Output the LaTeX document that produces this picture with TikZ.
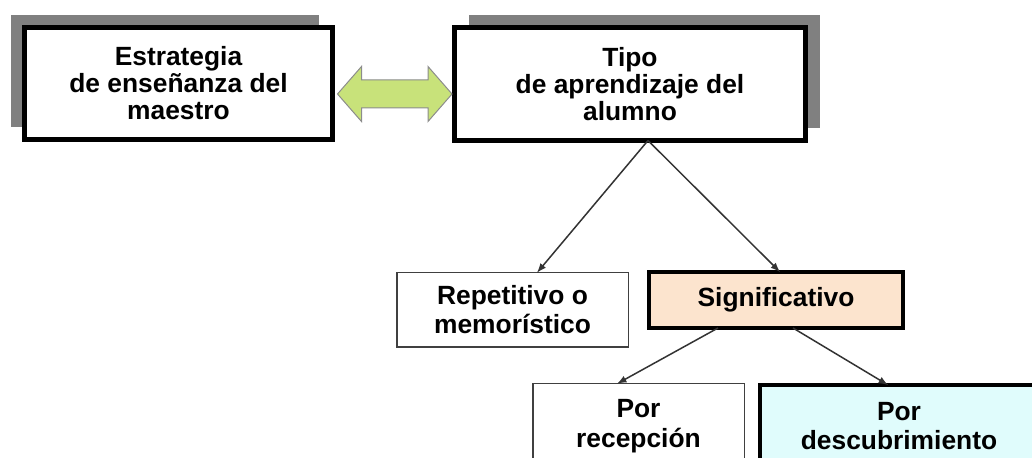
\documentclass[tikz,border=0pt]{standalone}
\usepackage{fontspec}
\setmainfont{Liberation Sans}
\usetikzlibrary{shadows}
\definecolor{peach}{RGB}{252,228,206}
\definecolor{icecyan}{RGB}{224,252,252}
\definecolor{leafgreen}{RGB}{200,226,122}
\def\fsz{15}
\tikzset{box/.style={
        font=\fontsize{\fsz}{#1}\selectfont\bfseries,
        draw=black,
        align=center,
        fill=white,
        inner sep=0pt,
        outer sep=0pt},
        %
        tbox/.style={
            box=15.4,
            line width=0.1cm,
            drop shadow={shadow xshift=#1, shadow yshift=0.24cm,
                         fill=black!50, opacity=1}},
        thinbox/.style={
            box=#1,
            draw=black!75,
            line width=0.03cm},
        fatbox/.style={
            box=17,
            line width=0.08cm,
            fill=#1}
        }

\begin{document}
\begin{tikzpicture}[x=1cm, y=-1cm,
                edgedown/.style={draw=black!80,line width=0.03cm,-latex},
                darrow/.style={draw=black!45,fill=leafgreen,line width=0.02cm}
                ]
\useasboundingbox (0,0) rectangle (20.64,9.16);
\clip (0,0) rectangle (20.64,9.16);

\node[tbox=-0.28cm, minimum width=6.16cm, minimum height=2.24cm] (A1) at (3.57,1.67)
    {Estrategia\\de enseñanza del\\maestro};
\node[tbox=0.28cm, minimum width=7.02cm, minimum height=2.26cm] (A2) at (12.6,1.68)
    {Tipo\\de aprendizaje del\\alumno};

% doble flecha verde
\draw[darrow] ([xshift=0.1cm,yshift=-0.21cm]A1.east) coordinate (L)
    -- ++(0.48,-0.55) -- ++(0,0.27) -- ++(1.33,0) -- ++(0,-0.27)
    -- ++(0.48,0.55) -- ++(-0.48,0.55) -- ++(0,-0.27) -- ++(-1.33,0)
    -- ++(0,0.27) -- cycle;

\node[thinbox=16.5, minimum width=4.63cm, minimum height=1.49cm] (B1) at (10.25,6.2)
    {Repetitivo o\\memorístico};
\node[fatbox=peach, minimum width=5.08cm, minimum height=1.12cm] (B2) at (15.52,6.0)
    {Significativo};

\node[thinbox=17, minimum width=4.23cm, minimum height=1.69cm] (C1) at (12.77,8.52)
    {Por\\recepción};
\node[fatbox=icecyan, minimum width=5.56cm, minimum height=1.64cm] (C2) at (17.98,8.52)
    {Por\\descubrimiento};

\draw[edgedown] ([xshift=0.36cm]A2.south) -- ([xshift=0.49cm]B1.north);
\draw[edgedown] ([xshift=0.36cm]A2.south) -- ([xshift=0.08cm]B2.north);
\draw[edgedown] ([xshift=-1.16cm]B2.south) -- ([xshift=-0.43cm]C1.north);
\draw[edgedown] ([xshift=0.34cm]B2.south) -- ([xshift=-0.22cm]C2.north);
\end{tikzpicture}
\end{document}
